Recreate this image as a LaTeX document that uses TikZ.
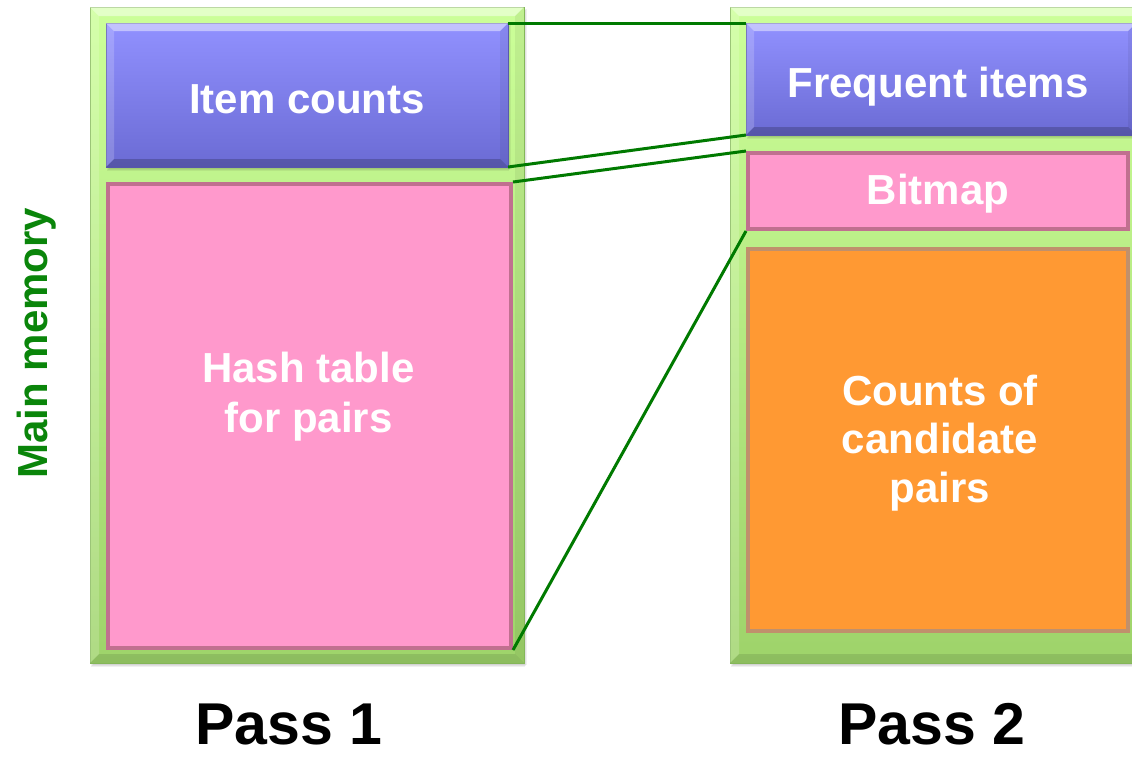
\documentclass[tikz,border=0pt]{standalone}
\usepackage{fontspec}
\setmainfont{Liberation Sans}
\usetikzlibrary{calc}

\definecolor{framegreenTop}{HTML}{CCFF99}
\definecolor{framegreenBot}{HTML}{9ED36A}
\definecolor{frameedge}{HTML}{86B95A}
\definecolor{purpleTop}{HTML}{9191FF}
\definecolor{purpleBot}{HTML}{6B6BD4}
\definecolor{purpleedge}{HTML}{5A5AB0}
\definecolor{pinkfill}{HTML}{FF99CC}
\definecolor{pinkedge}{HTML}{C0708F}
\definecolor{orangefill}{HTML}{FF9933}
\definecolor{orangeedge}{HTML}{C0906C}
\definecolor{linkgreen}{HTML}{007A00}
\definecolor{labelgreen}{HTML}{0A850A}

% bevel strips on the four sides of a rectangular node
% #1 node, #2 bevel width, #3 shade of the lower strip
\newcommand\drawbevel[3]{%
  \fill[white,opacity=.45] (#1.north west) -- (#1.north east)
    -- ([xshift=-#2,yshift=-#2]#1.north east) -- ([xshift=#2,yshift=-#2]#1.north west) -- cycle;
  \fill[white,opacity=.18] (#1.north west) -- ([xshift=#2,yshift=-#2]#1.north west)
    -- ([xshift=#2,yshift=#2]#1.south west) -- (#1.south west) -- cycle;
  \fill[black,opacity=.06] (#1.north east) -- ([xshift=-#2,yshift=-#2]#1.north east)
    -- ([xshift=-#2,yshift=#2]#1.south east) -- (#1.south east) -- cycle;
  \fill[black,opacity=#3] (#1.south west) -- ([xshift=#2,yshift=#2]#1.south west)
    -- ([xshift=-#2,yshift=#2]#1.south east) -- (#1.south east) -- cycle;
}

\tikzset{
  x=1pt, y=-1pt,
  block/.style={rectangle, inner sep=0pt, outer sep=0pt},
  softshadow/.style={
    preaction={fill=black, opacity=.06, transform canvas={xshift=1pt,yshift=-4pt}},
    preaction={fill=black, opacity=.06, transform canvas={xshift=2pt,yshift=-3pt}},
    preaction={fill=black, opacity=.06, transform canvas={xshift=3pt,yshift=-2pt}}},
  frame/.style={block, softshadow, top color=framegreenTop, bottom color=framegreenBot,
    draw=frameedge, line width=.8pt},
  counter/.style={block, softshadow, top color=purpleTop, bottom color=purpleBot,
    draw=purpleedge, line width=.6pt},
  pinkbox/.style={block, fill=pinkfill, draw=pinkedge, line width=4pt, outer sep=2pt},
  orangebox/.style={block, fill=orangefill, draw=orangeedge, line width=4pt, outer sep=2pt},
  boxtext/.style={inner sep=0pt, text=white, align=center,
    font=\fontsize{42}{50}\selectfont\bfseries},
  passtext/.style={inner sep=0pt, text=black, font=\fontsize{59}{68}\selectfont\bfseries},
  link/.style={draw=linkgreen, line width=3pt},
}

\begin{document}
\begin{tikzpicture}
\useasboundingbox (0,0) rectangle (1132,756);
\fill[white] (0,0) rectangle (1132,756);

% memory columns
\node[frame, minimum width=434, minimum height=656] (mem1) at (307,335) {};
\drawbevel{mem1}{9pt}{.10}
\node[frame, minimum width=420, minimum height=656] (mem2) at (940,335) {};
\drawbevel{mem2}{9pt}{.10}

% pass 1 contents
\node[counter, minimum width=402, minimum height=144] (ic) at (307,95) {};
\drawbevel{ic}{8pt}{.20}
\node[pinkbox, minimum width=403, minimum height=464] (ht) at (309.5,416) {};

% pass 2 contents
\node[counter, minimum width=390, minimum height=112] (fi) at (941,79) {};
\drawbevel{fi}{8pt}{.20}
\node[pinkbox, minimum width=380, minimum height=76] (bm) at (938,191) {};
\node[orangebox, minimum width=380, minimum height=382] (cc) at (938,440) {};

% box labels (base = baseline of the last line)
\node[boxtext, anchor=base] (ict) at (307,113) {Item counts};
\node[boxtext, anchor=base] (htt) at (308.5,432) {Hash table\\for pairs};
\node[boxtext, anchor=base] (fit) at (938,97) {Frequent items};
\node[boxtext, anchor=base] (bmt) at (938,204) {Bitmap};
\node[boxtext, anchor=base, font=\fontsize{42}{48.5}\selectfont\bfseries]
  (cct) at (940,502) {Counts of\\candidate\\pairs};

% side and bottom captions
\node[inner sep=0pt, anchor=base, rotate=90, text=labelgreen,
  font=\fontsize{42}{50}\selectfont\bfseries] (mm) at (47,343) {Main memory};
\node[passtext, anchor=base] (p1) at (289,744) {Pass 1};
\node[passtext, anchor=base] (p2) at (932,744) {Pass 2};

% correspondence lines between the two passes
\draw[link] (ic.north east) -- (fi.north west);
\draw[link] (ic.south east) -- (fi.south west);
\draw[link] (ht.north east) -- (bm.north west);
\draw[link] (ht.south east) -- (bm.south west);
\end{tikzpicture}
\end{document}
